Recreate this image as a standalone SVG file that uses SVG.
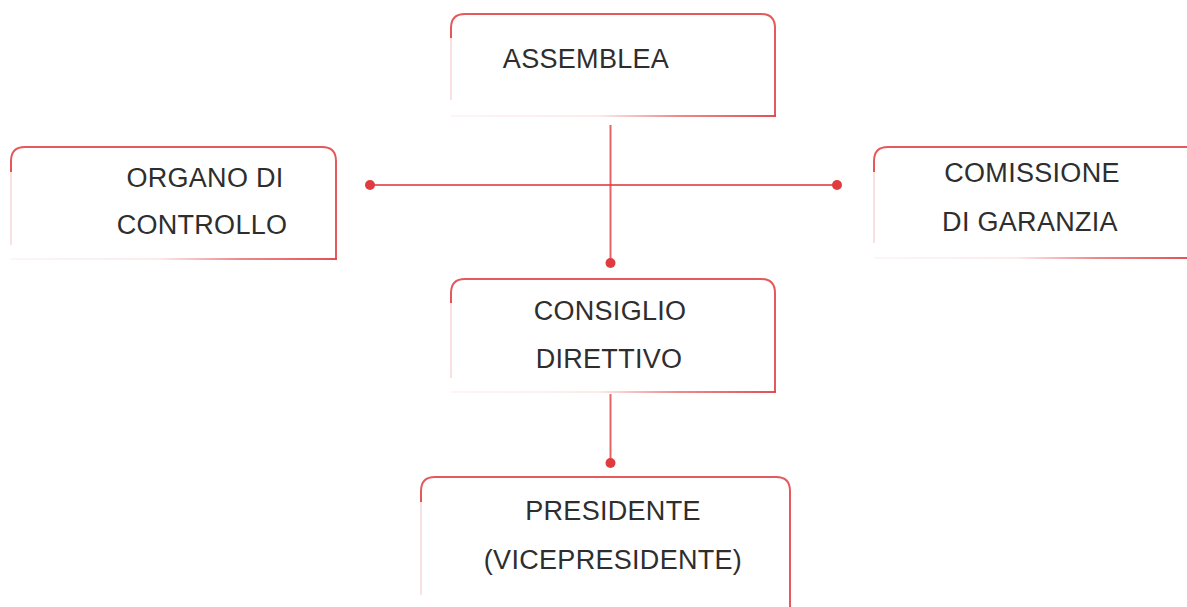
<svg xmlns="http://www.w3.org/2000/svg" width="1187" height="607" viewBox="0 0 1187 607">
<style>
.bg{fill:#ffffff}
.edge{fill:none;stroke:#e03c40;stroke-width:2;stroke-opacity:0.85}
.faint{fill:none;stroke:#f2b9bb;stroke-width:1.5;stroke-opacity:0.6}
.lbl{font-family:"Liberation Sans",Arial,sans-serif;font-size:27px;fill:#2e2e2e;text-anchor:middle;letter-spacing:0.3px}
.conn{stroke:#e03c40;stroke-width:2;stroke-opacity:0.8;fill:none}
.dot{fill:#e03c40}
</style>
<defs>
<linearGradient id="fadeB" x1="0" y1="0" x2="1" y2="0">
<stop offset="0" stop-color="#e03c40" stop-opacity="0.05"/>
<stop offset="0.45" stop-color="#e03c40" stop-opacity="0.1"/>
<stop offset="0.7" stop-color="#e03c40" stop-opacity="0.6"/>
<stop offset="1" stop-color="#e03c40" stop-opacity="0.9"/>
</linearGradient>
</defs>
<rect class="bg" x="0" y="0" width="1187" height="607"/>

<g id="connectors">
<line class="conn" x1="370" y1="185" x2="837" y2="185"/>
<line class="conn" x1="610.5" y1="125" x2="610.5" y2="263"/>
<line class="conn" x1="610.5" y1="394" x2="610.5" y2="463"/>
<circle class="dot" cx="370" cy="185" r="5"/>
<circle class="dot" cx="837" cy="185" r="5"/>
<circle class="dot" cx="610.5" cy="263" r="5"/>
<circle class="dot" cx="610.5" cy="463" r="5"/>
</g>

<g id="assemblea">
<rect class="bg" x="451" y="14" width="324" height="102"/>
<path class="faint" d="M451,34 L451,100"/>
<path class="edge" d="M451,38 L451,28 Q451,14 465,14 L761,14 Q775,14 775,28 L775,116"/>
<rect x="451" y="115" width="325" height="2" fill="url(#fadeB)"/>
<text class="lbl" x="586" y="68">ASSEMBLEA</text>
</g>

<g id="organo">
<rect class="bg" x="11" y="147" width="325" height="112"/>
<path class="faint" d="M11,167 L11,245"/>
<path class="edge" d="M11,172 L11,161 Q11,147 25,147 L322,147 Q336,147 336,161 L336,259"/>
<rect x="11" y="258" width="326" height="2" fill="url(#fadeB)"/>
<text class="lbl" x="205" y="187">ORGANO DI</text>
<text class="lbl" x="202" y="234">CONTROLLO</text>
</g>

<g id="commissione">
<rect class="bg" x="874" y="147" width="316" height="111"/>
<path class="faint" d="M874,167 L874,243"/>
<path class="edge" d="M874,172 L874,161 Q874,147 888,147 L1190,147"/>
<rect x="874" y="257" width="316" height="2" fill="url(#fadeB)"/>
<text class="lbl" x="1032" y="182">COMISSIONE</text>
<text class="lbl" x="1030" y="231">DI GARANZIA</text>
</g>

<g id="consiglio">
<rect class="bg" x="451" y="279" width="324" height="113"/>
<path class="faint" d="M451,299 L451,378"/>
<path class="edge" d="M451,303 L451,293 Q451,279 465,279 L761,279 Q775,279 775,293 L775,392"/>
<rect x="451" y="391" width="325" height="2" fill="url(#fadeB)"/>
<text class="lbl" x="610" y="320">CONSIGLIO</text>
<text class="lbl" x="609" y="368">DIRETTIVO</text>
</g>

<g id="presidente">
<rect class="bg" x="421" y="477" width="369" height="130"/>
<path class="faint" d="M421,497 L421,595"/>
<path class="edge" d="M421,502 L421,491 Q421,477 435,477 L776,477 Q790,477 790,491 L790,607"/>
<text class="lbl" x="613" y="520">PRESIDENTE</text>
<text class="lbl" x="613" y="569">(VICEPRESIDENTE)</text>
</g>
</svg>
